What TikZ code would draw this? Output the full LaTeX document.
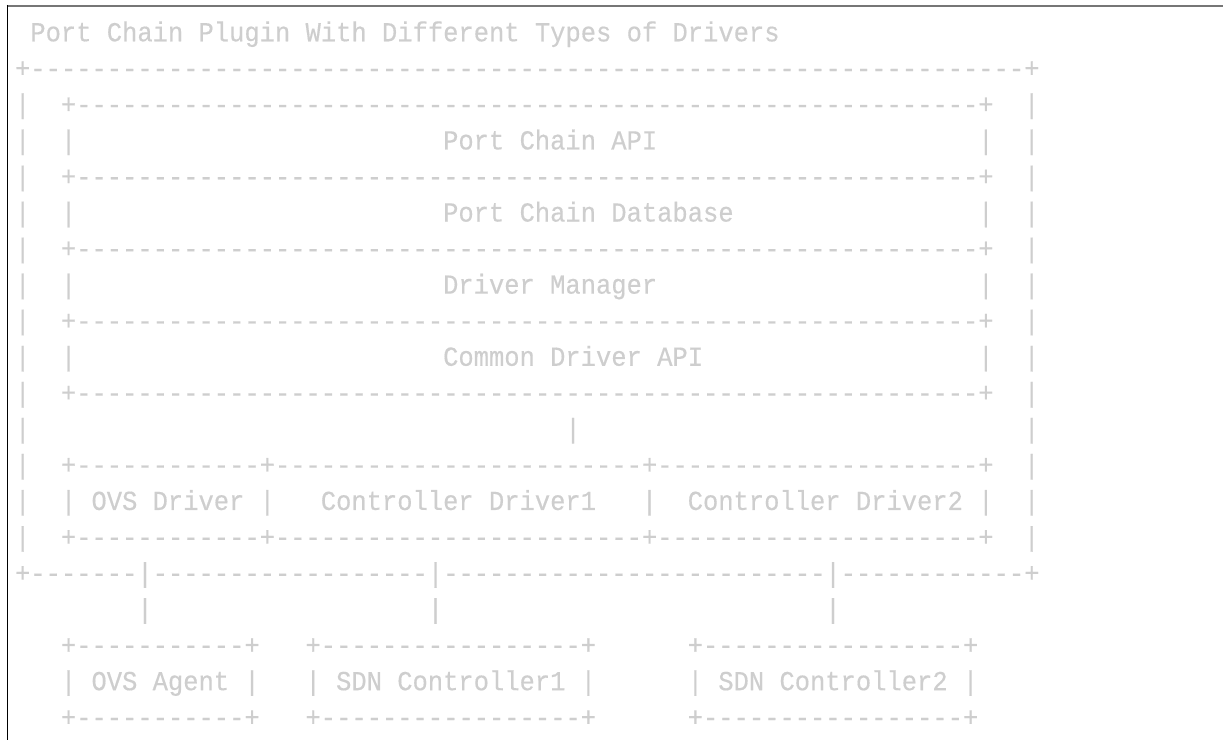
\documentclass[tikz,border=0pt]{standalone}
\usepackage{fontspec}
\setmonofont[FakeStretch=0.926, FakeBold=0.4]{Liberation Mono}
\definecolor{asciigray}{RGB}{206,206,206}
\definecolor{framegray}{RGB}{118,118,118}
\ExplSyntaxOn
\NewDocumentCommand\dashrun{m}{\prg_replicate:nn{#1}{-}}
\ExplSyntaxOff
\tikzset{
ascii/.style={anchor=base west, inner sep=0pt, outer sep=0pt, text=asciigray,
  font=\ttfamily\fontsize{13.76}{15}\selectfont}, % one character cell per unit
frame/.style={line width=0.85pt},
}

\begin{document}
\begin{tikzpicture}[x=7.644pt, y=-18.025pt]
    \useasboundingbox (-7.53pt,20.65pt) rectangle (603.97pt,-349.35pt);
    \draw[frame, framegray] (-4.2pt,17.75pt) -- (603.97pt,17.75pt);
    \draw[frame, black] (-3.78pt,18.2pt) -- (-3.78pt,-349.35pt);
    \node[ascii] (title) at (1,0) {Port Chain Plugin With Different Types of Drivers};
    \node[ascii] (outertop) at (0,1) {+\dashrun{65}+};
    \foreach \r in {2,...,14} {
      \node[ascii] (lwall\r) at (0,\r) {|};
      \node[ascii] (rwall\r) at (66,\r) {|};
    }
    \foreach \r in {2,4,...,10}
      \node[ascii] (sep\r) at (3,\r) {+\dashrun{59}+};
    \foreach \r/\name/\txt in {3/api/Port Chain API, 5/db/Port Chain Database,
        7/mgr/Driver Manager, 9/common/Common Driver API} {
      \node[ascii] (\name-l) at (3,\r) {|};
      \node[ascii] (\name) at (28,\r) {\txt};
      \node[ascii] (\name-r) at (63,\r) {|};
    }
    \node[ascii] (mgrlink) at (36,11) {|};
    \foreach \r in {12,14}
      \node[ascii] (drvline\r) at (3,\r) {+\dashrun{12}+\dashrun{24}+\dashrun{21}+};
    \node[ascii] (ovsdrv-l) at (3,13) {|};
    \node[ascii] (ovsdrv) at (5,13) {OVS Driver};
    \node[ascii] (ovsdrv-r) at (16,13) {|};
    \node[ascii] (ctldrv1) at (20,13) {Controller Driver1};
    \node[ascii] (ctldrv1-r) at (41,13) {|};
    \node[ascii] (ctldrv2) at (44,13) {Controller Driver2};
    \node[ascii] (ctldrv2-r) at (63,13) {|};
    \node[ascii] (outerbot) at (0,15) {+\dashrun{7}|\dashrun{18}|\dashrun{25}|\dashrun{12}+};
    \node[ascii] (agentlink) at (8,16) {|};
    \node[ascii] (sdn1link) at (27,16) {|};
    \node[ascii] (sdn2link) at (53,16) {|};
    \foreach \r in {17,19} {
      \node[ascii] (agentline\r) at (3,\r) {+\dashrun{11}+};
      \node[ascii] (sdn1line\r) at (19,\r) {+\dashrun{17}+};
      \node[ascii] (sdn2line\r) at (44,\r) {+\dashrun{17}+};
    }
    \node[ascii] (agent-l) at (3,18) {|};
    \node[ascii] (agent) at (5,18) {OVS Agent};
    \node[ascii] (agent-r) at (15,18) {|};
    \node[ascii] (sdn1-l) at (19,18) {|};
    \node[ascii] (sdn1) at (21,18) {SDN Controller1};
    \node[ascii] (sdn1-r) at (37,18) {|};
    \node[ascii] (sdn2-l) at (44,18) {|};
    \node[ascii] (sdn2) at (46,18) {SDN Controller2};
    \node[ascii] (sdn2-r) at (62,18) {|};
\end{tikzpicture}
\end{document}
